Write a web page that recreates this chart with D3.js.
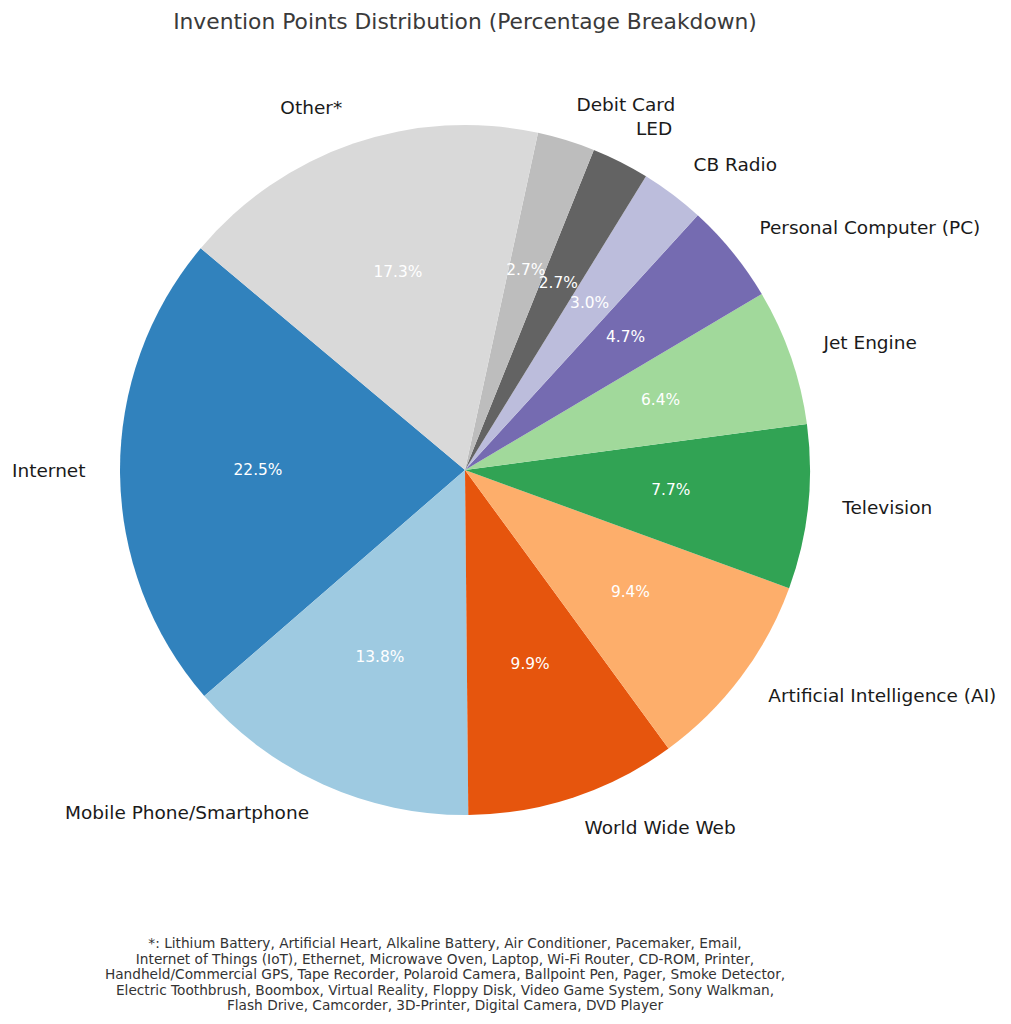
<!DOCTYPE html>
<html>
<head>
<meta charset="utf-8">
<script src="https://cdn.jsdelivr.net/npm/d3@7"></script>
<style>
  body { margin: 0; background: #fff; }
  svg { font-family: "DejaVu Sans", sans-serif; }
</style>
</head>
<body>
<svg id="chart" width="1011" height="1024"></svg>
<script>
var categories = ["Internet", "Mobile Phone/Smartphone", "World Wide Web", "Artificial Intelligence (AI)",
    "Television", "Jet Engine", "Personal Computer (PC)", "CB Radio", "LED", "Debit Card", "Other*"];
var percents = [22.5, 13.8, 9.9, 9.4, 7.7, 6.4, 4.7, 3.0, 2.7, 2.7, 17.3];
var colors = ["#3182bd", "#9ecae1", "#e6550d", "#fdae6b", "#31a354", "#a1d99b",
    "#756bb1", "#bcbddc", "#636363", "#bdbdbd", "#d9d9d9"];
var footnote = [
    "*: Lithium Battery, Artificial Heart, Alkaline Battery, Air Conditioner, Pacemaker, Email,",
    "Internet of Things (IoT), Ethernet, Microwave Oven, Laptop, Wi-Fi Router, CD-ROM, Printer,",
    "Handheld/Commercial GPS, Tape Recorder, Polaroid Camera, Ballpoint Pen, Pager, Smoke Detector,",
    "Electric Toothbrush, Boombox, Virtual Reality, Floppy Disk, Video Game System, Sony Walkman,",
    "Flash Drive, Camcorder, 3D-Printer, Digital Camera, DVD Player"
];

var svg = d3.select("#chart");
var cx = 465, cy = 470, radius = 345;

svg.append("text")
    .attr("x", 465)
    .attr("y", 29)
    .attr("text-anchor", "middle")
    .attr("font-size", "21.8px")
    .attr("fill", "#3a3a3a")
    .text("Invention Points Distribution (Percentage Breakdown)");

var data = categories.map(function(c, i) { return {name: c, value: percents[i], color: colors[i]}; });

// matplotlib style: start at 140 deg, counterclockwise
var startDeg = 140;
var pie = d3.pie()
    .sort(null)
    .value(function(d) { return d.value; })
    .startAngle((90 - startDeg) * Math.PI / 180)
    .endAngle((90 - startDeg - 360) * Math.PI / 180);

var arcs = pie(data);
var arc = d3.arc().innerRadius(0).outerRadius(radius);

var g = svg.append("g").attr("transform", "translate(" + cx + "," + cy + ")");

g.selectAll("path.slice")
    .data(arcs)
    .enter().append("path")
    .attr("class", "slice")
    .attr("d", arc)
    .attr("fill", function(d) { return d.data.color; });

function midPoint(d, dist) {
    var a = (d.startAngle + d.endAngle) / 2;
    return [dist * Math.sin(a), -dist * Math.cos(a)];
}

g.selectAll("text.pct")
    .data(arcs)
    .enter().append("text")
    .attr("class", "pct")
    .attr("x", function(d) { return midPoint(d, radius * 0.6)[0]; })
    .attr("y", function(d) { return midPoint(d, radius * 0.6)[1] - 2; })
    .attr("text-anchor", "middle")
    .attr("dominant-baseline", "central")
    .attr("font-size", "15.4px")
    .attr("fill", "#fff")
    .text(function(d) { return d.data.value.toFixed(1) + "%"; });

g.selectAll("text.label")
    .data(arcs)
    .enter().append("text")
    .attr("class", "label")
    .attr("x", function(d) { return midPoint(d, radius * 1.1)[0]; })
    .attr("y", function(d) { return midPoint(d, radius * 1.1)[1] - 3; })
    .attr("text-anchor", function(d) { return midPoint(d, 1)[0] > 0 ? "start" : "end"; })
    .attr("dominant-baseline", "central")
    .attr("font-size", "18.5px")
    .attr("fill", "#1a1a1a")
    .text(function(d) { return d.data.name; });

svg.selectAll("text.note")
    .data(footnote)
    .enter().append("text")
    .attr("class", "note")
    .attr("x", 445)
    .attr("y", function(d, i) { return 948 + i * 15.5; })
    .attr("text-anchor", "middle")
    .attr("font-size", "13.7px")
    .attr("fill", "#333")
    .text(function(d) { return d; });
</script>
</body>
</html>
